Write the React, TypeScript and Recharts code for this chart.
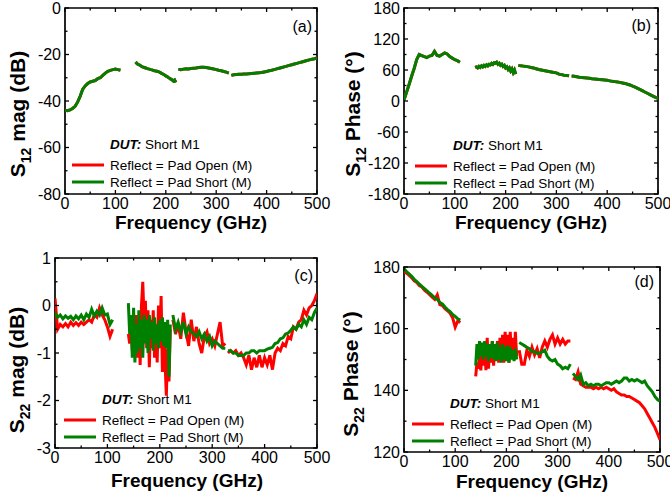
import React from "react";
import { LineChart, Line, XAxis, YAxis, ReferenceArea } from "recharts";

const FONT = '"Liberation Sans", Arial, sans-serif';
const RED = "#ff0000";
const GREEN = "#008000";

// frequency points (GHz) of the four measured bands
const BAND1_FREQ = [0, 5, 10, 15, 20, 25, 30, 35, 40, 45, 50, 55, 60, 65, 70, 75, 80, 85, 90, 95, 100, 105, 110];
const BAND2_FREQ = [140, 142.5, 145, 147.5, 150, 152.5, 155, 157.5, 160, 162.5, 165, 167.5, 170, 172.5, 175, 177.5, 180, 182.5, 185, 187.5, 190, 192.5, 195, 197.5, 200, 202.5, 205, 207.5, 210, 212.5, 215, 217.5, 220];
const BAND3_FREQ = [225, 230, 235, 240, 245, 250, 255, 260, 265, 270, 275, 280, 285, 290, 295, 300, 305, 310, 315, 320, 325];
const BAND4_FREQ = [330, 335, 340, 345, 350, 355, 360, 365, 370, 375, 380, 385, 390, 395, 400, 405, 410, 415, 420, 425, 430, 435, 440, 445, 450, 455, 460, 465, 470, 475, 480, 485, 490, 495, 500];
const BANDS = [BAND1_FREQ, BAND2_FREQ, BAND3_FREQ, BAND4_FREQ];

// (a) S12 magnitude, dB - both reflect standards overlap
const S12_MAG_SHORT = [
  [-44, -44.2, -43.8, -43.2, -42.3, -40.5, -38, -35, -33.5, -32.5, -31.8, -31.5, -31.2, -30.4, -30, -29, -28, -27.2, -26.8, -26.5, -26.3, -26.5, -26.8],
  [-23.2, -23.8, -24.3, -24.5, -24.8, -25.2, -25.4, -25.6, -25.8, -26, -26.2, -26.3, -26.5, -26.6, -26.8, -27, -27.1, -27.2, -27.4, -27.6, -27.9, -28.2, -28.5, -28.8, -29.2, -29.5, -29.9, -30.2, -30.6, -30.9, -31.4, -31, -32],
  [-26.4, -26.5, -26.3, -26.1, -26.2, -26, -25.9, -25.8, -25.6, -25.5, -25.5, -25.6, -25.8, -26, -26.2, -26.5, -26.8, -27, -27.3, -27.6, -28],
  [-29, -28.7, -28.6, -28.5, -28.5, -28.4, -28.4, -28.3, -28.2, -28.1, -28, -27.9, -27.7, -27.5, -27.3, -27, -26.8, -26.5, -26.2, -25.9, -25.6, -25.3, -25, -24.7, -24.4, -24.1, -23.8, -23.5, -23.2, -22.9, -22.6, -22.3, -22, -21.8, -21.5],
];
const S12_MAG_OPEN = S12_MAG_SHORT;

// (b) S12 phase, degrees
const S12_PHASE_SHORT = [
  [2, 17, 32, 48, 63, 80, 90, 88, 86, 84, 87, 88, 96, 88, 87, 90, 93, 91, 86, 83, 80, 78, 75],
  [65, 66, 64, 67, 65, 68, 66, 69, 67, 70, 68, 71, 70, 73, 71, 74, 73, 75, 71, 73, 69, 71, 67, 69, 64, 66, 61, 64, 58, 62, 55, 60, 52],
  [69, 68, 67.5, 67, 66, 65, 64, 62.5, 61, 60, 59, 58, 57, 56, 55, 54.5, 52, 51, 50, 49.5, 49],
  [48.5, 48, 47, 46, 45.5, 45, 44.5, 44, 43, 42.5, 42, 41.5, 41, 40.5, 40, 39, 38, 37.5, 37, 36, 35, 34, 32.5, 31, 29, 27, 24.5, 22, 19.5, 17, 14.5, 12, 9.5, 7, 5],
];
const S12_PHASE_OPEN = S12_PHASE_SHORT;

// (c) S22 magnitude, dB
const S22_MAG_OPEN = [
  [0.15, -0.5, -0.4, -0.45, -0.38, -0.45, -0.35, -0.42, -0.36, -0.42, -0.35, -0.4, -0.35, -0.3, -0.35, -0.2, -0.25, -0.05, -0.2, -0.3, -0.45, -0.65, -0.5],
  [-0.6, -0.8, -0.4, -0.95, -0.5, -0.9, -0.2, -1.1, -0.3, -1.25, 0, 0.5, -0.3, 0.1, -0.9, -0.1, -1.3, -0.3, -0.9, -0.1, -1.1, -0.4, -1.2, 0, -0.9, 0.2, -1.4, -0.4, -1.2, -1.9, -0.9, -1.6, -0.5],
  [-0.3, -0.6, -0.4, -0.7, -0.15, -0.55, -0.85, -0.3, -0.75, -0.45, -0.8, -1, -0.65, -0.55, -0.8, -0.7, -0.85, -0.6, -0.35, -0.85, -0.8],
  [-1, -0.95, -1, -0.95, -1.05, -1, -1.1, -1.25, -1.05, -1.35, -1.1, -1.3, -1.05, -1.3, -1.1, -1.25, -1.05, -1.35, -1, -0.9, -0.95, -0.8, -0.85, -0.65, -0.7, -0.45, -0.5, -0.35, -0.3, -0.1, -0.2, -0.05, 0, 0.1, 0.25],
];
const S22_MAG_SHORT = [
  [-0.15, -0.25, -0.2, -0.28, -0.22, -0.27, -0.23, -0.3, -0.22, -0.28, -0.2, -0.3, -0.18, -0.25, -0.08, -0.22, -0.12, -0.2, -0.05, -0.2, -0.18, -0.4, -0.3],
  [0.05, -0.6, -0.2, -1.1, -0.05, -1.2, -0.4, -1, -0.1, -0.9, -0.3, -1.1, -0.2, -0.8, -0.3, -1, -0.2, -0.7, -0.35, -0.95, -0.25, -0.8, -0.4, -0.9, -0.3, -0.75, -0.25, -0.85, -0.35, -0.9, -0.3, -1.5, -0.4],
  [-0.2, -0.5, -0.35, -0.55, -0.35, -0.6, -0.45, -0.55, -0.6, -0.65, -0.55, -0.7, -0.6, -0.75, -0.65, -0.85, -0.75, -0.8, -0.85, -0.9, -0.9],
  [-0.95, -0.95, -1, -1, -1.05, -1.05, -1.05, -1, -1, -0.95, -0.95, -1, -0.95, -0.95, -0.95, -0.92, -0.9, -0.88, -0.8, -0.78, -0.7, -0.68, -0.6, -0.58, -0.52, -0.45, -0.5, -0.4, -0.45, -0.3, -0.4, -0.25, -0.3, -0.15, -0.05],
];

// (d) S22 phase, degrees
const S22_PHASE_OPEN = [
  [178.5, 178, 177.3, 176.5, 175.5, 175, 174, 173.5, 172.5, 171.8, 171, 170.2, 169.5, 171, 167.8, 167.5, 166.5, 165.8, 165, 163.5, 160.5, 162.5, 162],
  [144.5, 149, 147, 151, 146.5, 152, 148, 155, 146.5, 157, 147, 154, 149, 156, 148, 155, 150, 156, 149, 157, 150, 158, 149, 159, 150, 158, 149, 159, 151, 157, 150, 159, 151],
  [153, 148.5, 148.5, 153, 151, 154, 151.5, 153.5, 150.5, 154, 156, 154, 156.5, 158, 155, 157, 155, 156.5, 155, 156, 156],
  [144, 143.5, 146, 142, 141.5, 141, 141, 141, 140.5, 141, 140.5, 141, 140.5, 141, 140.5, 140, 140.5, 139.5, 139, 138.5, 138.5, 138, 138, 137.5, 137, 136.5, 136, 135, 134, 132.5, 131, 129.5, 128, 126, 124],
];
const S22_PHASE_SHORT = [
  [179.5, 178.5, 177.8, 177, 176, 175.3, 174.5, 173.7, 173, 172.3, 171.5, 170.8, 170, 169.5, 168.5, 168, 167, 166.2, 165.5, 164.6, 164, 163.2, 162.8],
  [148, 155, 150, 156, 151, 155.5, 150, 156, 151, 155, 149.5, 155, 150.5, 156, 150, 155, 149.5, 155.5, 150, 154, 149, 155, 150, 154, 149.5, 154.5, 149, 154, 150, 153, 149.5, 153.5, 150],
  [155.5, 155, 154.5, 154, 153.5, 152.5, 152.5, 152, 152, 152.5, 153, 151, 150, 149.5, 150, 148.5, 148, 147, 147.5, 147, 148.5],
  [145.5, 144.5, 143.5, 145, 142, 142.5, 141.5, 142, 141.5, 142, 142, 141.5, 142, 142.5, 142.5, 142, 142.5, 143, 142.5, 143, 144, 144, 143, 143.5, 143, 143.5, 143, 142.5, 143, 141.5, 140.5, 139.5, 138, 137, 136.5],
];

const X_TICKS = [0, 50, 100, 150, 200, 250, 300, 350, 400, 450, 500];
const X_LABELS = [0, 100, 200, 300, 400, 500];

type Pt = { f: number; v: number | null };

function toSeries(bands: number[][]): Pt[] {
  const out: Pt[] = [];
  bands.forEach((vals, i) => {
    const freq = BANDS[i];
    if (i > 0) {
      const prev = BANDS[i - 1];
      out.push({ f: (prev[prev.length - 1] + freq[0]) / 2, v: null });
    }
    vals.forEach((v, j) => out.push({ f: freq[j], v }));
  });
  return out;
}

type PanelDef = {
  left: number;
  top: number;
  w: number;
  h: number;
  yDomain: [number, number];
  yTicks: number[];
  yLabels: number[];
  open: number[][];
  short: number[][];
};

function Panel({ left, top, w, h, yDomain, yTicks, yLabels, open, short }: PanelDef) {
  const xTick = (p: any) => {
    const v = p.payload.value;
    const major = X_LABELS.includes(v);
    const len = major ? 4 : 2.5;
    return (
      <g>
        <line x1={p.x} y1={p.y} x2={p.x} y2={p.y - len} stroke="#000" strokeWidth={1.3} />
        <line x1={p.x} y1={p.y - h} x2={p.x} y2={p.y - h + len} stroke="#000" strokeWidth={1.3} />
        {major && (
          <text x={p.x} y={p.y + 15} textAnchor="middle" fontSize={16} fontFamily={FONT} fill="#000">
            {v}
          </text>
        )}
      </g>
    );
  };
  const yTick = (p: any) => {
    const v = p.payload.value;
    const major = yLabels.includes(v);
    const len = major ? 4 : 2.5;
    return (
      <g>
        <line x1={p.x} y1={p.y} x2={p.x + len} y2={p.y} stroke="#000" strokeWidth={1.3} />
        <line x1={p.x + w} y1={p.y} x2={p.x + w - len} y2={p.y} stroke="#000" strokeWidth={1.3} />
        {major && (
          <text x={p.x - 4} y={p.y} dy="0.36em" textAnchor="end" fontSize={16} fontFamily={FONT} fill="#000">
            {v}
          </text>
        )}
      </g>
    );
  };
  return (
    <div style={{ position: "absolute", left: left - 60, top: top - 10 }}>
      <LineChart width={w + 90} height={h + 50} margin={{ top: 10, right: 30, left: 0, bottom: 0 }} style={{ overflow: "visible" }}>
        <XAxis
          type="number"
          dataKey="f"
          domain={[0, 500]}
          ticks={X_TICKS}
          interval={0}
          height={40}
          tickSize={0}
          tickMargin={0}
          axisLine={false}
          tickLine={false}
          tick={xTick}
          allowDataOverflow
        />
        <YAxis
          type="number"
          domain={yDomain}
          ticks={yTicks}
          interval={0}
          width={60}
          tickSize={0}
          tickMargin={0}
          axisLine={false}
          tickLine={false}
          tick={yTick}
          allowDataOverflow
        />
        <Line data={toSeries(open)} dataKey="v" stroke={RED} strokeWidth={3} dot={false} isAnimationActive={false} />
        <Line data={toSeries(short)} dataKey="v" stroke={GREEN} strokeWidth={3} dot={false} isAnimationActive={false} />
        <ReferenceArea
          x1={0}
          x2={500}
          y1={yDomain[0]}
          y2={yDomain[1]}
          fill="none"
          fillOpacity={0}
          stroke="#000"
          strokeWidth={1.7}
          ifOverflow="visible"
        />
      </LineChart>
    </div>
  );
}

// text on top of the four plots
function Notes({ yTitle, sub, yx, yy, xx, xy, tag, tagX, tagY, legX, legY }: any) {
  return (
    <g fontFamily={FONT} fill="#000">
      <text transform={`translate(${yx},${yy}) rotate(-90)`} textAnchor="middle" fontSize={21} fontWeight="bold">
        S<tspan dy={6} fontSize={14}>{sub}</tspan>
        <tspan dy={-6}>{" " + yTitle}</tspan>
      </text>
      <text x={xx} y={xy} textAnchor="middle" fontSize={19} fontWeight="bold">
        Frequency (GHz)
      </text>
      <text x={tagX} y={tagY} textAnchor="end" fontSize={16}>
        {tag}
      </text>
      <text x={legX} y={legY} fontSize={13.5}>
        <tspan fontWeight="bold" fontStyle="italic">DUT:</tspan> Short M1
      </text>
      <line x1={legX - 38} x2={legX - 6} y1={legY + 16} y2={legY + 16} stroke={RED} strokeWidth={3} />
      <text x={legX} y={legY + 21} fontSize={13.5}>Reflect = Pad Open (M)</text>
      <line x1={legX - 38} x2={legX - 6} y1={legY + 33} y2={legY + 33} stroke={GREEN} strokeWidth={3} />
      <text x={legX} y={legY + 38} fontSize={13.5}>Reflect = Pad Short (M)</text>
    </g>
  );
}

export default function App() {
  return (
    <div style={{ position: "absolute", left: 0, top: 0, width: 670, height: 498, background: "#fff", overflow: "hidden" }}>
      <Panel left={65} top={8} w={252} h={186} yDomain={[-80, 0]} yTicks={[-80, -70, -60, -50, -40, -30, -20, -10, 0]} yLabels={[-80, -60, -40, -20, 0]} open={S12_MAG_OPEN} short={S12_MAG_SHORT} />
      <Panel left={404} top={8} w={254} h={186} yDomain={[-180, 180]} yTicks={[-180, -150, -120, -90, -60, -30, 0, 30, 60, 90, 120, 150, 180]} yLabels={[-180, -120, -60, 0, 60, 120, 180]} open={S12_PHASE_OPEN} short={S12_PHASE_SHORT} />
      <Panel left={55} top={258} w={262} h={190} yDomain={[-3, 1]} yTicks={[-3, -2.5, -2, -1.5, -1, -0.5, 0, 0.5, 1]} yLabels={[-3, -2, -1, 0, 1]} open={S22_MAG_OPEN} short={S22_MAG_SHORT} />
      <Panel left={404} top={267} w={256} h={185} yDomain={[120, 180]} yTicks={[120, 130, 140, 150, 160, 170, 180]} yLabels={[120, 140, 160, 180]} open={S22_PHASE_OPEN} short={S22_PHASE_SHORT} />
      <svg width={670} height={498} style={{ position: "absolute", left: 0, top: 0, pointerEvents: "none" }}>
        <Notes yTitle="mag (dB)" sub="12" yx={25} yy={114} xx={191} xy={229} tag="(a)" tagX={312} tagY={32} legX={110} legY={149} />
        <Notes yTitle="Phase (°)" sub="12" yx={360} yy={114} xx={531} xy={229} tag="(b)" tagX={651} tagY={31} legX={453} legY={150} />
        <Notes yTitle="mag (dB)" sub="22" yx={24} yy={370} xx={187} xy={487} tag="(c)" tagX={313} tagY={281} legX={102} legY={404} />
        <Notes yTitle="Phase (°)" sub="22" yx={358} yy={374} xx={532} xy={488} tag="(d)" tagX={654} tagY={287} legX={450} legY={408} />
      </svg>
    </div>
  );
}
